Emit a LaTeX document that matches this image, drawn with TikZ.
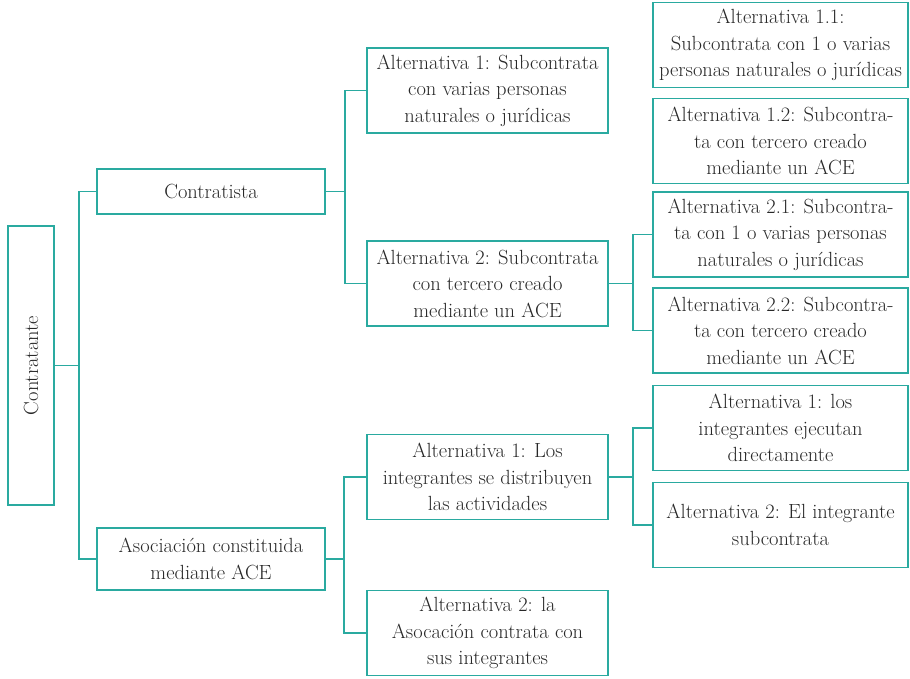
\documentclass[tikz,border=0pt]{standalone}
\usepackage{graphicx}
\usetikzlibrary{positioning}
\definecolor{tealline}{RGB}{42,170,160}
\definecolor{txtgray}{RGB}{40,40,40}

\begin{document}
\begin{tikzpicture}[x=1pt, y=-1pt,
    box/.style={draw=tealline, line width=1.5pt, align=center, text=txtgray,
      inner sep=0pt, minimum height=85pt,
      font=\fontsize{20.5}{26.5}\selectfont},
    wire/.style={draw=tealline, line width=1.5pt}]
  \useasboundingbox (0,0) rectangle (910,678);

  % Root
  \node[box, minimum width=46pt, minimum height=279pt] (root) at (31,365.5)
    {\rotatebox{90}{Contratante}};

  % Level 1
  \node[box, minimum width=228pt, minimum height=45pt] (cont) at (211,191.5) {Contratista};
  \node[box, minimum width=228pt, minimum height=62pt] (asoc) at (211,559)
    {Asociación constituida\\mediante ACE};

  % Level 2 (Contratista)
  \node[box, minimum width=241pt] (alt1) at (487.5,90.5)
    {Alternativa 1: Subcontrata\\con varias personas\\naturales o jurídicas};
  \node[box, minimum width=241pt] (alt2) at (487.5,283.5)
    {Alternativa 2: Subcontrata\\con tercero creado\\mediante un ACE};

  % Level 2 (Asociacion)
  \node[box, minimum width=241pt] (asoc1) at (487.5,477)
    {Alternativa 1: Los\\integrantes se distribuyen\\las actividades};
  \node[box, minimum width=241pt] (asoc2) at (487.5,633)
    {Alternativa 2: la\\Asocación contrata con\\sus integrantes};

  % Level 3
  \node[box, minimum width=255pt] (alt11) at (780.5,45)
    {Alternativa 1.1:\\Subcontrata con 1 o varias\\personas naturales o jurídicas};
  \node[box, minimum width=255pt] (alt12) at (780.5,141)
    {Alternativa 1.2: Subcontra-\\ta con tercero creado\\mediante un ACE};
  \node[box, minimum width=255pt] (alt21) at (780.5,234.5)
    {Alternativa 2.1: Subcontra-\\ta con 1 o varias personas\\naturales o jurídicas};
  \node[box, minimum width=255pt] (alt22) at (780.5,330.5)
    {Alternativa 2.2: Subcontra-\\ta con tercero creado\\mediante un ACE};
  \node[box, minimum width=255pt] (asoc11) at (780.5,428)
    {Alternativa 1: los\\integrantes ejecutan\\directamente};
  \node[box, minimum width=255pt] (asoc12) at (780.5,525)
    {Alternativa 2: El integrante\\subcontrata};

  % Connectors
  \coordinate (j0) at ([xshift=24pt]root.east);
  \draw[wire] (root.east) -- (j0);
  \draw[wire] (cont.west) -| (j0) |- (asoc.west);

  \coordinate (j1) at ([xshift=19pt]cont.east);
  \draw[wire] (cont.east) -- (j1);
  \draw[wire] (alt1.west) -| (j1) |- (alt2.west);

  \coordinate (j2) at ([xshift=24pt]alt2.east);
  \draw[wire] (alt2.east) -- (j2);
  \draw[wire] (alt21.west) -| (j2) |- (alt22.west);

  \coordinate (j3) at ([xshift=18pt]asoc.east);
  \draw[wire] (asoc.east) -- (j3);
  \draw[wire] (asoc1.west) -| (j3) |- (asoc2.west);

  \coordinate (j4) at ([xshift=24pt]asoc1.east);
  \draw[wire] (asoc1.east) -- (j4);
  \draw[wire] (asoc11.west) -| (j4) |- (asoc12.west);
\end{tikzpicture}
\end{document}
